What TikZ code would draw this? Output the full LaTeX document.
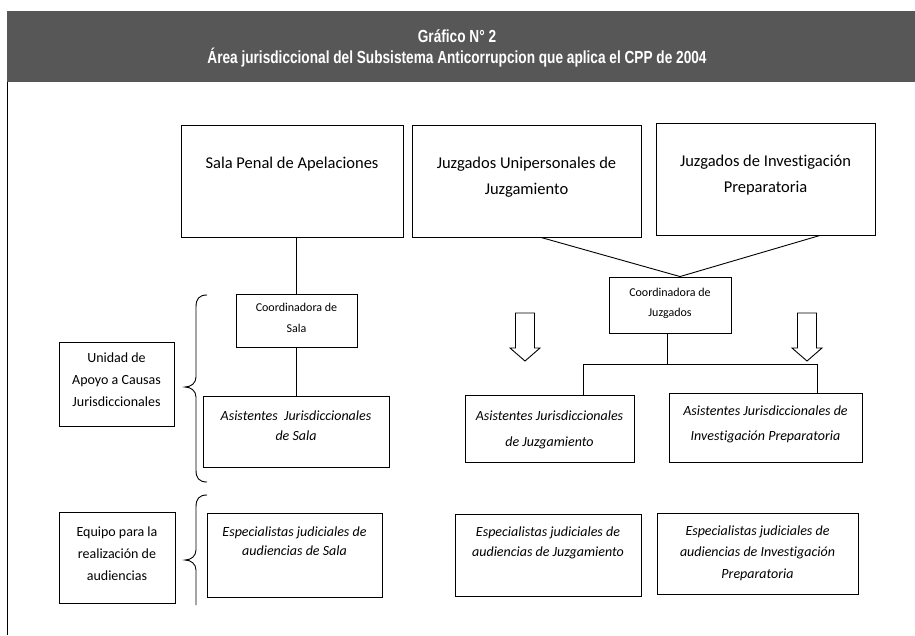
\documentclass[tikz,border=0pt]{standalone}
\usepackage{fontspec}
\setmainfont{Carlito}[Ligatures=NoCommon]
\newfontfamily\titlefont[FakeStretch=0.78]{Liberation Sans}
\usetikzlibrary{positioning}

\begin{document}
\begin{tikzpicture}[x=1pt, y=-1pt,
    box/.style={draw, line width=0.9pt, inner sep=0pt},
    bigtext/.style={font=\fontsize{16.5}{26}\selectfont, align=center, inner sep=0pt},
    coordtext/.style={font=\fontsize{12}{20.5}\selectfont, align=center, inner sep=0pt},
    smalltext/.style={font=\fontsize{14}{22}\selectfont, align=center, inner sep=0pt},
    conn/.style={line width=0.9pt}]
  \useasboundingbox (0,0) rectangle (915,635);
  % header band
  \fill[black!66] (7,11) rectangle (915,82);
  \node[font=\titlefont\bfseries\fontsize{17.5}{21}\selectfont, text=white, align=center] (title) at (457,48)
    {Gráfico N° 2\\Área jurisdiccional del Subsistema Anticorrupcion que aplica el CPP de 2004};
  \draw[conn] (7,82) -- (7,635);

  % top boxes
  \node[box, minimum width=222pt, minimum height=112pt] (sala) at (292,181) {};
  \node[box, minimum width=229pt, minimum height=112pt] (unip) at (526.5,181) {};
  \node[box, minimum width=219pt, minimum height=112pt] (invp) at (765.5,179) {};
  \node[bigtext, below=32pt of sala.north] (salatxt) {Sala Penal de Apelaciones};
  \node[bigtext, below=32pt of unip.north] (uniptxt) {Juzgados Unipersonales de\\Juzgamiento};
  \node[bigtext, below=32pt of invp.north] (invptxt) {Juzgados de Investigación\\Preparatoria};

  % coordinators
  \node[box, minimum width=121pt, minimum height=53pt] (coordsala) at (296.5,320.5) {};
  \node[box, minimum width=122pt, minimum height=56pt] (coordjuz) at (670,305) {};
  \node[coordtext, below=9.5pt of coordsala.north] (coordsalatxt) {Coordinadora de\\Sala};
  \node[coordtext, below=11pt of coordjuz.north] (coordjuztxt) {Coordinadora de\\Juzgados};

  % assistants
  \node[box, minimum width=186pt, minimum height=71pt] (asisala) at (296,431.5) {};
  \node[box, minimum width=169pt, minimum height=67pt] (asijuz) at (549.5,428.5) {};
  \node[box, minimum width=193pt, minimum height=69pt] (asiinv) at (765.5,427.5) {};
  \node[smalltext, font=\fontsize{14}{20}\selectfont\itshape, below=14.7pt of asisala.north] (asisalatxt) {Asistentes\ \ Jurisdiccionales\\de Sala};
  \node[smalltext, font=\fontsize{14}{26}\selectfont\itshape, below=15.7pt of asijuz.north] (asijuztxt) {Asistentes Jurisdiccionales\\de Juzgamiento};
  \node[smalltext, font=\fontsize{14}{25}\selectfont\itshape, below=12.7pt of asiinv.north] (asiinvtxt) {Asistentes Jurisdiccionales de\\Investigación Preparatoria};

  % specialists
  \node[box, minimum width=175pt, minimum height=84pt] (espsala) at (294.5,555) {};
  \node[box, minimum width=186pt, minimum height=82pt] (espjuz) at (548,555) {};
  \node[box, minimum width=201pt, minimum height=81pt] (espinv) at (757.5,553.5) {};
  \node[smalltext, font=\fontsize{14}{19}\selectfont\itshape, below=13.7pt of espsala.north] (espsalatxt) {Especialistas judiciales de\\audiencias de Sala};
  \node[smalltext, font=\fontsize{14}{20}\selectfont\itshape, below=12.7pt of espjuz.north] (espjuztxt) {Especialistas judiciales de\\audiencias de Juzgamiento};
  \node[smalltext, font=\fontsize{14}{21.5}\selectfont\itshape, below=12.7pt of espinv.north] (espinvtxt) {Especialistas judiciales de\\audiencias de Investigación\\Preparatoria};

  % left labels
  \node[box, minimum width=115pt, minimum height=84pt] (unidad) at (116.5,384) {};
  \node[box, minimum width=116pt, minimum height=91pt] (equipo) at (117,557.5) {};
  \node[smalltext, below=10.7pt of unidad.north] (unidadtxt) {Unidad de\\Apoyo a Causas\\Jurisdiccionales};
  \node[smalltext, below=14.7pt of equipo.north] (equipotxt) {Equipo para la\\realización de\\audiencias};

  % connectors
  \draw[conn] (sala.south -| coordsala.north) -- (coordsala.north);
  \draw[conn] (coordsala.south) -- (coordsala.south |- asisala.north);
  \draw[conn] ([xshift=14.5pt]unip.south) -- ([xshift=10pt]coordjuz.north) -- ([xshift=54.5pt]invp.south);
  \draw[conn] ([xshift=-3pt]coordjuz.south) -- ++(0,31) coordinate (fork);
  \draw[conn] ([xshift=33.5pt]asijuz.north) |- (fork) -| ([xshift=51.5pt]asiinv.north);

  % hollow arrows
  \foreach \ax in {525,807}
    \draw[conn] (\ax-9.5,313) -- (\ax+9.5,313) -- (\ax+9.5,348) -- (\ax+15,348)
      -- (\ax,361) -- (\ax-15,348) -- (\ax-9.5,348) -- cycle;

  % braces
  \draw[conn] (207,295) .. controls (199,295) and (196,299) .. (196,307) -- (196,377)
    .. controls (196,383) and (191,387) .. (185,387) .. controls (191,387) and (196,391) .. (196,397)
    -- (196,470) .. controls (196,478) and (199,482) .. (207,482);
  \draw[conn] (207,495) .. controls (199,495) and (196,499) .. (196,507) -- (196,550)
    .. controls (196,556) and (191,560) .. (185,560) .. controls (191,560) and (196,564) .. (196,570)
    -- (196,605);
\end{tikzpicture}
\end{document}
